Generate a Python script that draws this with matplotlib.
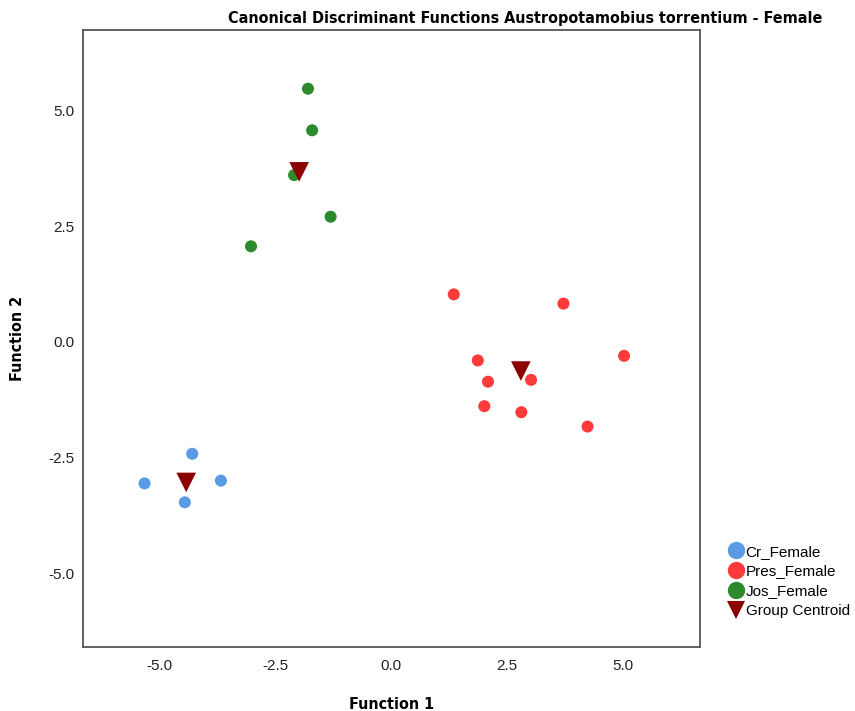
import matplotlib
matplotlib.use("Agg")
import matplotlib.pyplot as plt
from matplotlib.lines import Line2D

# group scores (Function 1, Function 2)
cr_f1 = [-4.30, -5.33, -3.68, -4.46]
cr_f2 = [-2.42, -3.06, -3.00, -3.47]

pres_f1 = [1.35, 3.72, 1.87, 5.03, 2.09, 3.02, 2.01, 2.81, 4.24]
pres_f2 = [1.03, 0.83, -0.40, -0.30, -0.86, -0.82, -1.39, -1.52, -1.83]

jos_f1 = [-1.80, -1.71, -2.10, -1.31, -3.03]
jos_f2 = [5.48, 4.58, 3.61, 2.71, 2.07]

centroid_f1 = [-4.43, 2.80, -1.99]
centroid_f2 = [-3.04, -0.63, 3.68]

tick_vals = [-5.0, -2.5, 0.0, 2.5, 5.0]

groups = ["Cr_Female", "Pres_Female", "Jos_Female"]
colors = ["#5b9be6", "#fe3a3a", "#2b8a2b"]
centroid_color = "#8b0000"

# SPSS-style narrow bold headings
bold_font = dict(family="DejaVu Sans", stretch="condensed", weight="bold")
regular = ["Liberation Sans", "DejaVu Sans"]

fig = plt.figure(figsize=(8.55, 7.11), dpi=100)
ax = fig.add_axes([83 / 855, 64 / 711, 617 / 855, 617 / 711])

for xs, ys, c in zip([cr_f1, pres_f1, jos_f1], [cr_f2, pres_f2, jos_f2], colors):
    ax.scatter(xs, ys, s=75, color=c, edgecolors="none", zorder=2)
ax.scatter(centroid_f1, centroid_f2, s=200, marker="v", color=centroid_color,
           edgecolors="none", zorder=3)

ax.set_xlim(-6.66, 6.67)
ax.set_ylim(-6.60, 6.75)
ax.set_xticks(tick_vals)
ax.set_yticks(tick_vals)
ax.set_xticklabels([f"{v:.1f}" for v in tick_vals], family=regular, fontsize=11, color="#222222")
ax.set_yticklabels([f"{v:.1f}" for v in tick_vals], family=regular, fontsize=11, color="#222222")
ax.tick_params(axis="x", length=0, pad=9)
ax.tick_params(axis="y", length=0, pad=6)

for sp in ax.spines.values():
    sp.set_color("#555555")
    sp.set_linewidth(1.3)

ax.set_xlabel("Function 1", fontsize=11.5, **bold_font)
ax.set_ylabel("Function 2", fontsize=11.5, **bold_font)
ax.xaxis.set_label_coords(0.5, -0.081)
ax.yaxis.set_label_coords(-0.094, 0.5)

fig.text(822 / 855, 1 - 18 / 711, "Canonical Discriminant Functions Austropotamobius torrentium - Female",
         fontsize=11.5, ha="right", va="center", **bold_font)

handles = [Line2D([], [], marker="o", linestyle="none", markersize=12.5, color=c,
                  markeredgewidth=0) for c in colors]
handles.append(Line2D([], [], marker="v", linestyle="none", markersize=13,
                      color=centroid_color, markeredgewidth=0))
fig.legend(handles, groups + ["Group Centroid"], loc="upper left",
           bbox_to_anchor=(718 / 855, 1 - 534 / 711), frameon=False,
           prop={"family": regular, "size": 11}, handlelength=0.9,
           handletextpad=0.2, labelspacing=0.38, borderpad=0.2)

fig.savefig("out.png", dpi=100)
